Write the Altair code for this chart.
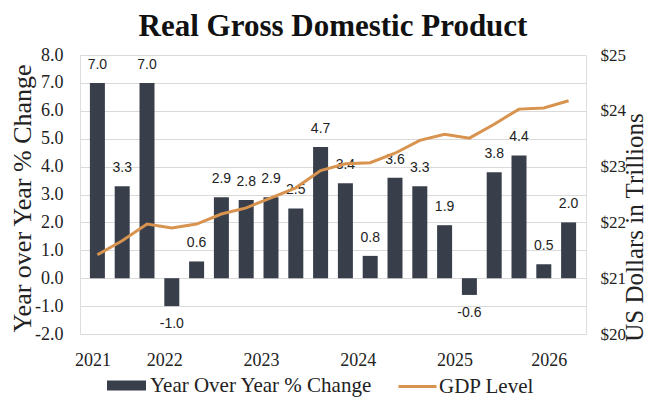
import altair as alt
import pandas as pd

# ---- data ----
quarters = ["2021Q1", "2021Q2", "2021Q3", "2021Q4",
            "2022Q1", "2022Q2", "2022Q3", "2022Q4",
            "2023Q1", "2023Q2", "2023Q3", "2023Q4",
            "2024Q1", "2024Q2", "2024Q3", "2024Q4",
            "2025Q1", "2025Q2", "2025Q3", "2025Q4"]
yoy_change = [7.0, 3.3, 7.0, -1.0, 0.6, 2.9, 2.8, 2.9, 2.5, 4.7,
              3.4, 0.8, 3.6, 3.3, 1.9, -0.6, 3.8, 4.4, 0.5, 2.0]
gdp_level = [21.42, 21.67, 21.97, 21.90, 21.97, 22.15, 22.26, 22.44, 22.62, 22.93,
             23.05, 23.07, 23.24, 23.47, 23.58, 23.51, 23.76, 24.03, 24.05, 24.18]
year_labels = ["2021", "2022", "2023", "2024", "2025", "2026"]
year_label_at = [-0.2, 2.7, 6.6, 10.5, 14.4, 18.2]   # quarter-index where each year label sits
yoy_ticks = [-2, -1, 0, 1, 2, 3, 4, 5, 6, 7, 8]
usd_ticks = [20, 21, 22, 23, 24, 25]

BAR = "#383f4b"
LINE = "#d8934f"
TXT = "#222222"
SERIF = "Liberation Serif"

df = pd.DataFrame({
    "idx": list(range(len(quarters))),
    "quarter": quarters,
    "yoy": yoy_change,
    "gdp": gdp_level,
    "label": [f"{v:.1f}" for v in yoy_change],
})

label_expr = " : ".join(
    f"abs(datum.value - ({p})) < 0.01 ? '{t}'" for p, t in zip(year_label_at, year_labels)
) + " : ''"

x_enc = alt.X(
    "idx:Q",
    scale=alt.Scale(domain=[-0.5, len(quarters) - 0.5], nice=False, zero=False),
    axis=alt.Axis(values=year_label_at, labelExpr=label_expr, title=None, grid=False,
                  ticks=False, domain=False, labelFont=SERIF, labelFontSize=18,
                  labelColor=TXT, labelPadding=17, labelFlush=False, labelOverlap=False),
)

y_left = alt.Y(
    "yoy:Q",
    scale=alt.Scale(domain=[-2, 8], nice=False),
    axis=alt.Axis(values=yoy_ticks, format=".1f",
                  labelExpr="replace(datum.label, '\u2212', '-')",
                  title="Year over Year % Change",
                  titleFont=SERIF, titleFontSize=26, titleFontWeight="normal", titleColor=TXT,
                  titleX=-50, titleY=143, titleAngle=270, titleBaseline="alphabetic",
                  titleAlign="center", labelOverlap=False,
                  labelFont=SERIF, labelFontSize=18, labelColor=TXT, labelPadding=17,
                  ticks=False, domain=False, grid=True, gridColor="#dadada", gridWidth=1),
)

base = alt.Chart(df)

bars = base.mark_bar(size=15).transform_calculate(
    series="'Year Over Year % Change'"
).encode(
    x=x_enc,
    y=y_left,
    y2=alt.datum(0),
    fill=alt.Fill("series:N",
                  scale=alt.Scale(domain=["Year Over Year % Change"], range=[BAR]),
                  legend=alt.Legend(title=None, orient="none", legendX=27, legendY=311,
                                    symbolType="M-1,-0.26H1V0.26H-1Z", symbolSize=1521,
                                    symbolStrokeWidth=0, labelFont=SERIF, labelFontSize=21,
                                    labelColor=TXT, labelOffset=4, padding=0,
                                    labelLimit=400, labelBaseline="middle")),
)

pos_labels = base.transform_filter("datum.yoy >= 0").mark_text(
    dy=-18, font="Liberation Sans", fontSize=14, color=TXT, baseline="middle"
).encode(x=x_enc, y=y_left, text="label:N")

neg_labels = base.transform_filter("datum.yoy < 0").mark_text(
    dy=18, font="Liberation Sans", fontSize=14, color=TXT, baseline="middle"
).encode(x=x_enc, y=y_left, text="label:N")

left_layer = alt.layer(bars, pos_labels, neg_labels)

line = base.mark_line(strokeWidth=3).transform_calculate(
    series2="'GDP Level'"
).encode(
    x=x_enc,
    y=alt.Y("gdp:Q",
            scale=alt.Scale(domain=[20, 25], nice=False, zero=False),
            axis=alt.Axis(orient="right", values=usd_ticks, format="$.0f",
                          title="US Dollars in Trillions", titleFont=SERIF, titleFontSize=25,
                          titleFontWeight="normal", titleColor=TXT, titleX=56, titleY=172,
                          titleAngle=270, titleBaseline="alphabetic", titleAlign="center",
                          labelOverlap=False,
                          labelFont=SERIF, labelFontSize=17, labelColor=TXT, labelPadding=14,
                          ticks=False, domain=False, grid=False)),
    stroke=alt.Stroke("series2:N",
                      scale=alt.Scale(domain=["GDP Level"], range=[LINE]),
                      legend=alt.Legend(title=None, orient="none", legendX=317, legendY=311,
                                        symbolType="stroke", symbolSize=1444,
                                        symbolStrokeWidth=3, labelFont=SERIF, labelFontSize=21,
                                        labelColor=TXT, labelOffset=1, padding=0,
                                        labelLimit=400, labelBaseline="middle")),
)

chart = alt.layer(left_layer, line).resolve_scale(
    y="independent", fill="independent", stroke="independent"
).properties(
    width=506,
    height=279,
    padding={"left": 80, "top": 55, "right": 61, "bottom": 64},
    autosize=alt.AutoSizeParams(type="none"),
    title=alt.TitleParams("Real Gross Domestic Product", font=SERIF, fontSize=31,
                          fontWeight="bold", color="#111111", anchor="middle",
                          frame="group", offset=13, dy=34, baseline="alphabetic"),
).configure_view(stroke=None).configure(background="white")

chart.save("out.html", embed_options={"renderer": "svg", "actions": False})
